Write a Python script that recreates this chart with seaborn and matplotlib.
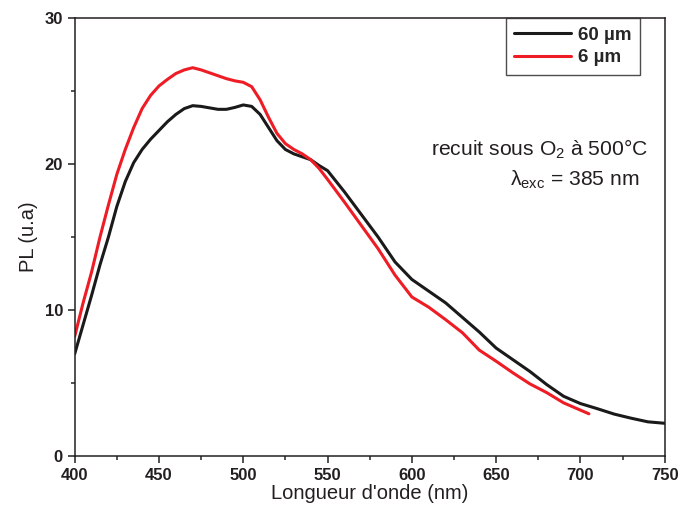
import numpy as np
import pandas as pd
import seaborn as sns
import matplotlib.pyplot as plt
from matplotlib.ticker import MultipleLocator

# Data
wl_60 = [400, 405, 410, 415, 420, 425, 430, 435, 440, 445, 450, 455, 460, 465, 470,
         475, 480, 485, 490, 495, 500, 505, 510, 515, 520, 525, 530, 535, 540, 545,
         550, 560, 570, 580, 590, 600, 610, 620, 630, 640, 650, 660, 670, 680,
         690, 700, 710, 720, 730, 740, 750]
pl_60 = [7.0, 9.0, 11.0, 13.1, 15.0, 17.1, 18.8, 20.1, 21.0, 21.7, 22.3, 22.9, 23.4, 23.8, 24.0,
         23.95, 23.85, 23.75, 23.75, 23.88, 24.05, 23.95, 23.4, 22.5, 21.6, 21.0, 20.7, 20.5, 20.3, 19.9,
         19.55, 18.1, 16.55, 15.0, 13.3, 12.1, 11.3, 10.5, 9.5, 8.5, 7.4, 6.6, 5.8, 4.9,
         4.1, 3.6, 3.25, 2.88, 2.6, 2.35, 2.25]

wl_6 = [400, 405, 410, 415, 420, 425, 430, 435, 440, 445, 450, 455, 460, 465, 470,
        475, 480, 485, 490, 495, 500, 505, 510, 515, 520, 525, 530, 535, 540, 545,
        550, 560, 570, 580, 590, 600, 610, 620, 630, 640, 650, 660, 670, 680,
        690, 700, 705]
pl_6 = [8.2, 10.5, 12.6, 15.0, 17.2, 19.3, 21.0, 22.5, 23.8, 24.7, 25.35, 25.8, 26.2, 26.45, 26.6,
        26.45, 26.25, 26.05, 25.85, 25.7, 25.6, 25.3, 24.4, 23.2, 22.1, 21.4, 21.0, 20.7, 20.3, 19.7,
        18.95, 17.4, 15.8, 14.2, 12.4, 10.9, 10.2, 9.35, 8.45, 7.26, 6.5, 5.7, 4.95, 4.35,
        3.65, 3.15, 2.9]

labels = ['60 µm', '6 µm']
colors = ['#1a1a1a', '#ee1c25']

sns.set_theme(style='ticks')
plt.rcParams['font.family'] = ['Liberation Sans', 'DejaVu Sans']
plt.rcParams['mathtext.fontset'] = 'custom'
plt.rcParams['mathtext.rm'] = 'Liberation Sans'
plt.rcParams['mathtext.it'] = 'Liberation Sans:italic'

fig = plt.figure(figsize=(6.79, 5.16), dpi=100)
ax = fig.add_axes([0.110, 0.116, 0.869, 0.849])

sns.lineplot(x=wl_60, y=pl_60, color=colors[0], lw=2.2, label=labels[0], ax=ax)
sns.lineplot(x=wl_6, y=pl_6, color=colors[1], lw=2.2, label=labels[1], ax=ax)
for line in ax.lines:
    line.set_solid_joinstyle('round')

ax.set_xlim(400, 750)
ax.set_ylim(0, 30)
ax.xaxis.set_major_locator(MultipleLocator(50))
ax.xaxis.set_minor_locator(MultipleLocator(25))
ax.yaxis.set_major_locator(MultipleLocator(10))
ax.yaxis.set_minor_locator(MultipleLocator(5))
ax.tick_params(which='major', direction='out', length=5, width=1.1, labelsize=12, colors='#231f20')
ax.tick_params(which='minor', direction='out', length=3, width=1.1)
ax.tick_params(top=False, right=False, which='both')
for t in ax.get_xticklabels() + ax.get_yticklabels():
    t.set_fontweight('bold')
for s in ax.spines.values():
    s.set_visible(True)
    s.set_linewidth(1.1)
    s.set_color('#231f20')

ax.set_xlabel("Longueur d'onde (nm)", fontsize=14.5, labelpad=1, color='#231f20')
ax.set_ylabel("PL (u.a)", fontsize=14.5, labelpad=5, color='#231f20')

# legend box hugging the top spine, upper right
leg = ax.legend(loc='upper right', bbox_to_anchor=(0.958, 1.0), borderaxespad=0,
                prop={'weight': 'bold', 'size': 13.5}, frameon=True, fancybox=False,
                handlelength=3.0, handletextpad=0.4, borderpad=0.45, labelspacing=0.3)
leg.get_frame().set_edgecolor('#231f20')
leg.get_frame().set_linewidth(1.0)

ax.text(740, 20.55, 'recuit sous O$_2$ à 500°C', ha='right', va='baseline',
        fontsize=15.2, color='#231f20')
ax.text(735, 18.5, 'λ$_{\\mathrm{exc}}$ = 385 nm', ha='right', va='baseline',
        fontsize=15.2, color='#231f20')

fig.savefig('out.png', dpi=100)
